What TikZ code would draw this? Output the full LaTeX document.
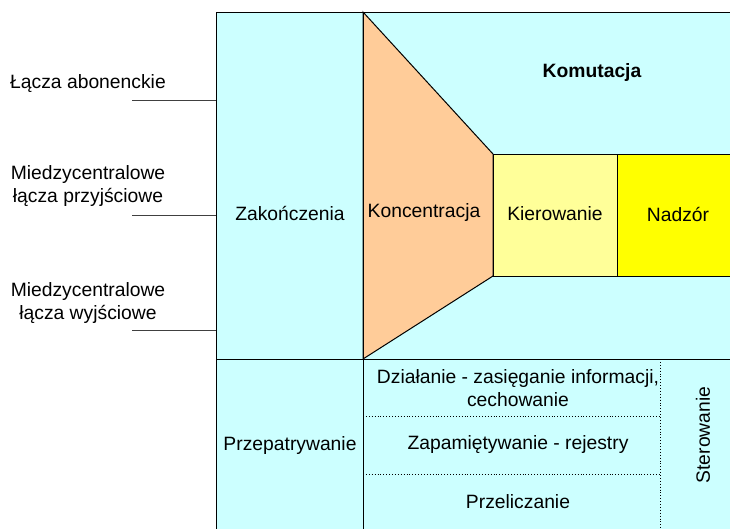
\documentclass[tikz,border=0pt]{standalone}
\usepackage{fontspec}
\setmainfont{Liberation Sans}
\definecolor{panel}{HTML}{CCFFFF}
\definecolor{peach}{HTML}{FFCC99}
\definecolor{paleyellow}{HTML}{FFFF99}
\definecolor{brightyellow}{HTML}{FFFF00}
\begin{document}
\begin{tikzpicture}[x=1pt,y=-1pt,
  every node/.style={font=\fontsize{19.3}{23.5}\selectfont, inner sep=0pt},
  edge/.style={line width=1pt, draw=black},
  sep/.style={line width=0.9pt, dotted},
  lead/.style={line width=1pt, draw=black!75},
  lbl/.style={align=center}]
\useasboundingbox (0,0) rectangle (730,528);
\clip (0,0) rectangle (730,528);

% exchange frame
\path[fill=panel, edge] (216,12) rectangle (745,545);

% concentration stage
\path[fill=peach, edge] (363,12) -- (493,154) -- (493,276) -- (363,359) -- cycle;

% routing and supervision blocks
\path[fill=paleyellow, edge] (493,154) rectangle (617,276);
\path[fill=brightyellow, edge] (617,154) rectangle (745,276);

% main dividers
\draw[edge] (216,359) -- (745,359);
\draw[edge] (363,12) -- (363,545);

% control section dividers
\draw[sep] (363,416) -- (660,416);
\draw[sep] (363,474) -- (660,474);
\draw[sep] (660,359) -- (660,545);

% incoming lines
\coordinate (l1) at (132,100);
\coordinate (l2) at (132,215);
\coordinate (l3) at (132,330);
\coordinate (f1) at (216,100);
\coordinate (f2) at (216,215);
\coordinate (f3) at (216,330);
\draw[lead] (l1) -- (f1);
\draw[lead] (l2) -- (f2);
\draw[lead] (l3) -- (f3);

% labels
\node[lbl] (abon) at (88,84) {Łącza abonenckie};
\node[lbl] (przyj) at (88,186) {Miedzycentralowe\\łącza przyjściowe};
\node[lbl] (wyj) at (88,303) {Miedzycentralowe\\łącza wyjściowe};
\node (zak) at (290,213) {Zakończenia};
\node (konc) at (424,213) {Koncentracja};
\node (kier) at (555,214) {Kierowanie};
\node (nadz) at (678,214) {Nadzór};
\node[font=\fontsize{19.3}{23.5}\selectfont\bfseries] (kom) at (592,73) {Komutacja};
\node (przep) at (290,445) {Przepatrywanie};
\node[lbl] (dzial) at (518,388) {Działanie - zasięganie informacji,\\cechowanie};
\node (zap) at (518,445) {Zapamiętywanie - rejestry};
\node (przel) at (518,502) {Przeliczanie};
\node[rotate=90] (ster) at (703,435) {Sterowanie};
\end{tikzpicture}
\end{document}
